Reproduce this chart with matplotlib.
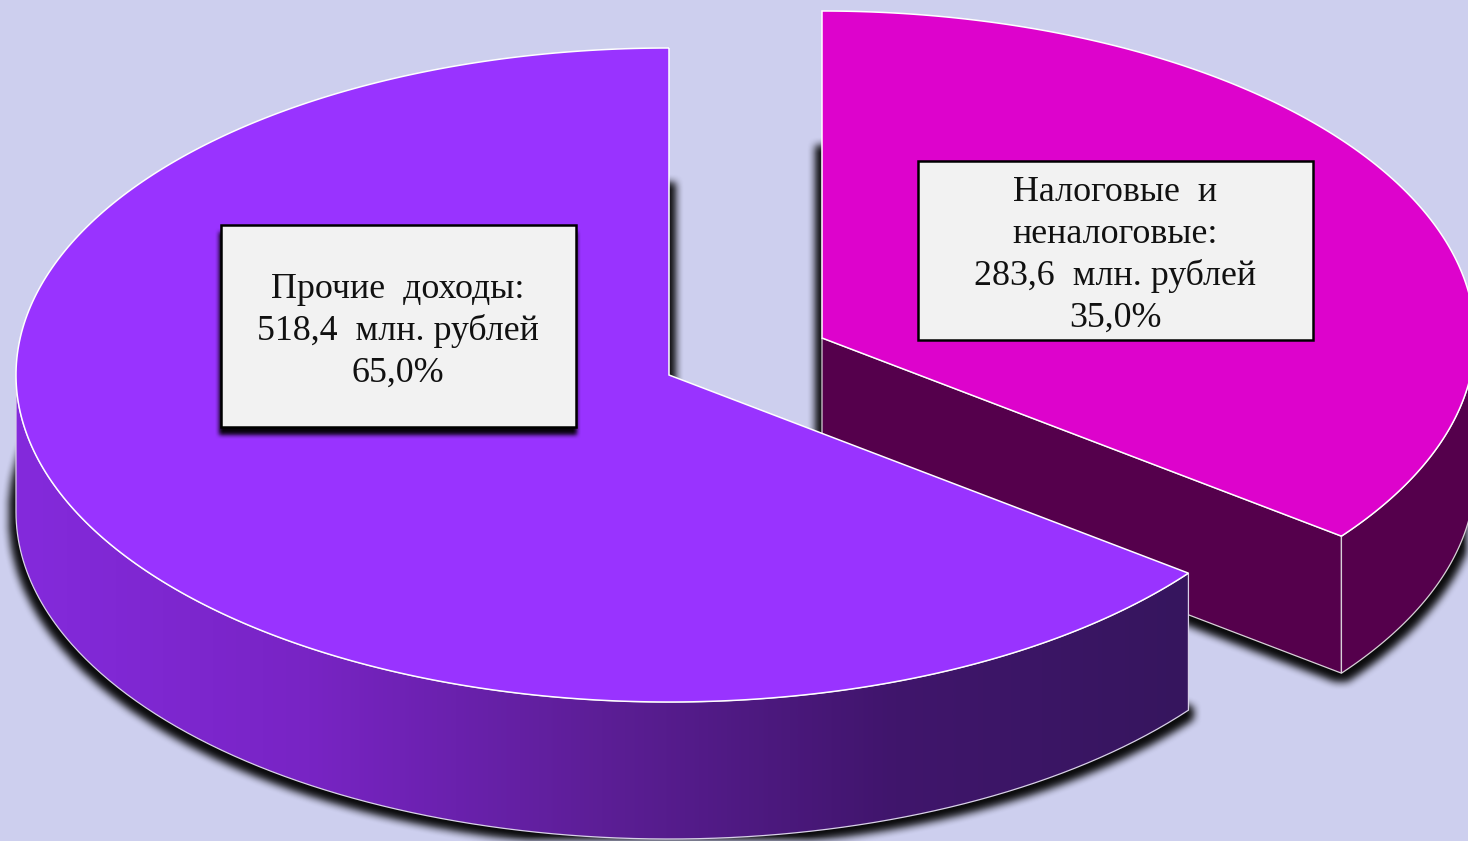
import numpy as np
import matplotlib
matplotlib.use("Agg")
import matplotlib.pyplot as plt
from matplotlib.colors import LinearSegmentedColormap
from matplotlib.patches import PathPatch, Rectangle
from matplotlib.path import Path

W, H = 1468, 841

categories = ["Прочие  доходы:", "Налоговые  и\nненалоговые:"]
values = [518.4, 283.6]
amounts = ["518,4", "283,6"]
share_labels = ["65,0%", "35,0%"]

BG = "#CDCFEE"
PURPLE = "#9933FF"
MAGENTA = "#DD03CC"
MAROON = "#55004C"
WALL_COLORS = ["#842ADC", "#7824C4", "#5C1E96", "#40156C", "#36165E"]

RX, RY, DEPTH = 653, 327, 137
BIG_CENTER = (669, 375)
SMALL_CENTER = (822, 338)


def arc(center, a1, a2, n=300):
    t = np.radians(np.linspace(a1, a2, n))
    return np.column_stack([center[0] + RX * np.cos(t), center[1] - RY * np.sin(t)])


def poly(points):
    return Path(np.vstack([points, points[:1]]))


def blur1d(arr, size, axis):
    kernel = np.ones(size) / size
    return np.apply_along_axis(lambda v: np.convolve(v, kernel, mode="same"), axis, arr)


def add_shadow(ax, points, grow_x, grow_y, soft, zorder=1):
    # black blurred silhouette, computed on the pixel grid
    xx, yy = np.meshgrid(np.arange(W) + 0.5, np.arange(H) + 0.5)
    grid = np.column_stack([xx.ravel(), yy.ravel()])
    mask = poly(points).contains_points(grid).reshape(H, W).astype(float)
    mask = blur1d(blur1d(mask, 2 * grow_x + 1, 1), 2 * grow_y + 1, 0) > 0.01
    mask = mask.astype(float)
    for _ in range(2):
        mask = blur1d(blur1d(mask, soft, 1), soft, 0)
    rgba = np.zeros((H, W, 4))
    rgba[..., 3] = mask * 0.95
    ax.imshow(rgba, extent=(0, W, H, 0), interpolation="nearest", aspect="auto", zorder=zorder)


def fill(ax, points, color, zorder, edge="#FFFFFF", lw=1.1):
    ax.add_patch(PathPatch(poly(points), facecolor=color, edgecolor=edge, lw=lw, zorder=zorder))


def down(points):
    return points + np.array([0, DEPTH])


plt.rcParams["font.family"] = ["Liberation Serif", "DejaVu Serif"]
fig = plt.figure(figsize=(W / 100, H / 100), dpi=100, facecolor=BG)
ax = fig.add_axes([0, 0, 1, 1])
ax.set_xlim(0, W)
ax.set_ylim(H, 0)
ax.axis("off")

# pie angles come from the amounts, first slice goes counter-clockwise from the top
big_end = 90 + 360 * values[0] / sum(values)
big_face = np.vstack([arc(BIG_CENTER, 90, big_end), [BIG_CENTER]])
small_face = np.vstack([arc(SMALL_CENTER, big_end - 360, 90), [SMALL_CENTER]])

add_shadow(ax, down(small_face) + [0, 3], 7, 6, 9)
add_shadow(ax, down(big_face) + [0, 3], 7, 6, 9)

# magenta slice
small_rim = arc(SMALL_CENTER, big_end - 360, 0)
small_cut = np.array([SMALL_CENTER, small_rim[0]])
fill(ax, np.vstack([small_cut, down(small_cut)[::-1]]), MAROON, 2, "#D8D0D8", 0.9)
fill(ax, np.vstack([small_rim, down(small_rim)[::-1]]), MAROON, 2, "#D8D0D8", 0.9)
fill(ax, small_face, MAGENTA, 3)

# purple slice, side wall has a horizontal gradient
big_rim = arc(BIG_CENTER, 180, big_end)
wall = poly(np.vstack([big_rim, down(big_rim)[::-1]]))
wall_patch = PathPatch(wall, facecolor="none", edgecolor="none", zorder=4)
ax.add_patch(wall_patch)
cmap = LinearSegmentedColormap.from_list("wall", WALL_COLORS)
x0, x1 = big_rim[:, 0].min(), big_rim[:, 0].max()
grad = ax.imshow(np.linspace(0, 1, 512)[None, :], cmap=cmap, aspect="auto",
                 extent=(x0, x1, H, 0), zorder=4)
grad.set_clip_path(wall_patch)
ax.add_patch(PathPatch(wall, facecolor="none", edgecolor="#D8D0E8", lw=0.9, zorder=5))
fill(ax, big_face, PURPLE, 6)

ax.set_xlim(0, W)
ax.set_ylim(H, 0)

# label boxes
box_big = (221, 225, 576, 427)
box_small = (918, 161, 1313, 340)
corners = np.array([[box_big[0] - 1, box_big[1] + 8], [box_big[2], box_big[1] + 8],
                    [box_big[2], box_big[3] + 7], [box_big[0] - 1, box_big[3] + 7]])
add_shadow(ax, corners, 1, 1, 5, zorder=7)
for box in (box_big, box_small):
    ax.add_patch(Rectangle((box[0], box[1]), box[2] - box[0], box[3] - box[1],
                           facecolor="#F2F2F2", edgecolor="black", lw=1.8, zorder=8))

labels = [f"{c}\n{a}  млн. рублей\n{s}" for c, a, s in zip(categories, amounts, share_labels)]
for box, label in zip((box_big, box_small), labels):
    ax.text((box[0] + box[2]) / 2 - 0.5, (box[1] + box[3]) / 2 + 5, label, ha="center", va="center",
            fontsize=25.8, color="#111111", linespacing=1.33, zorder=9)

fig.savefig("out.png", dpi=100, facecolor=BG)
